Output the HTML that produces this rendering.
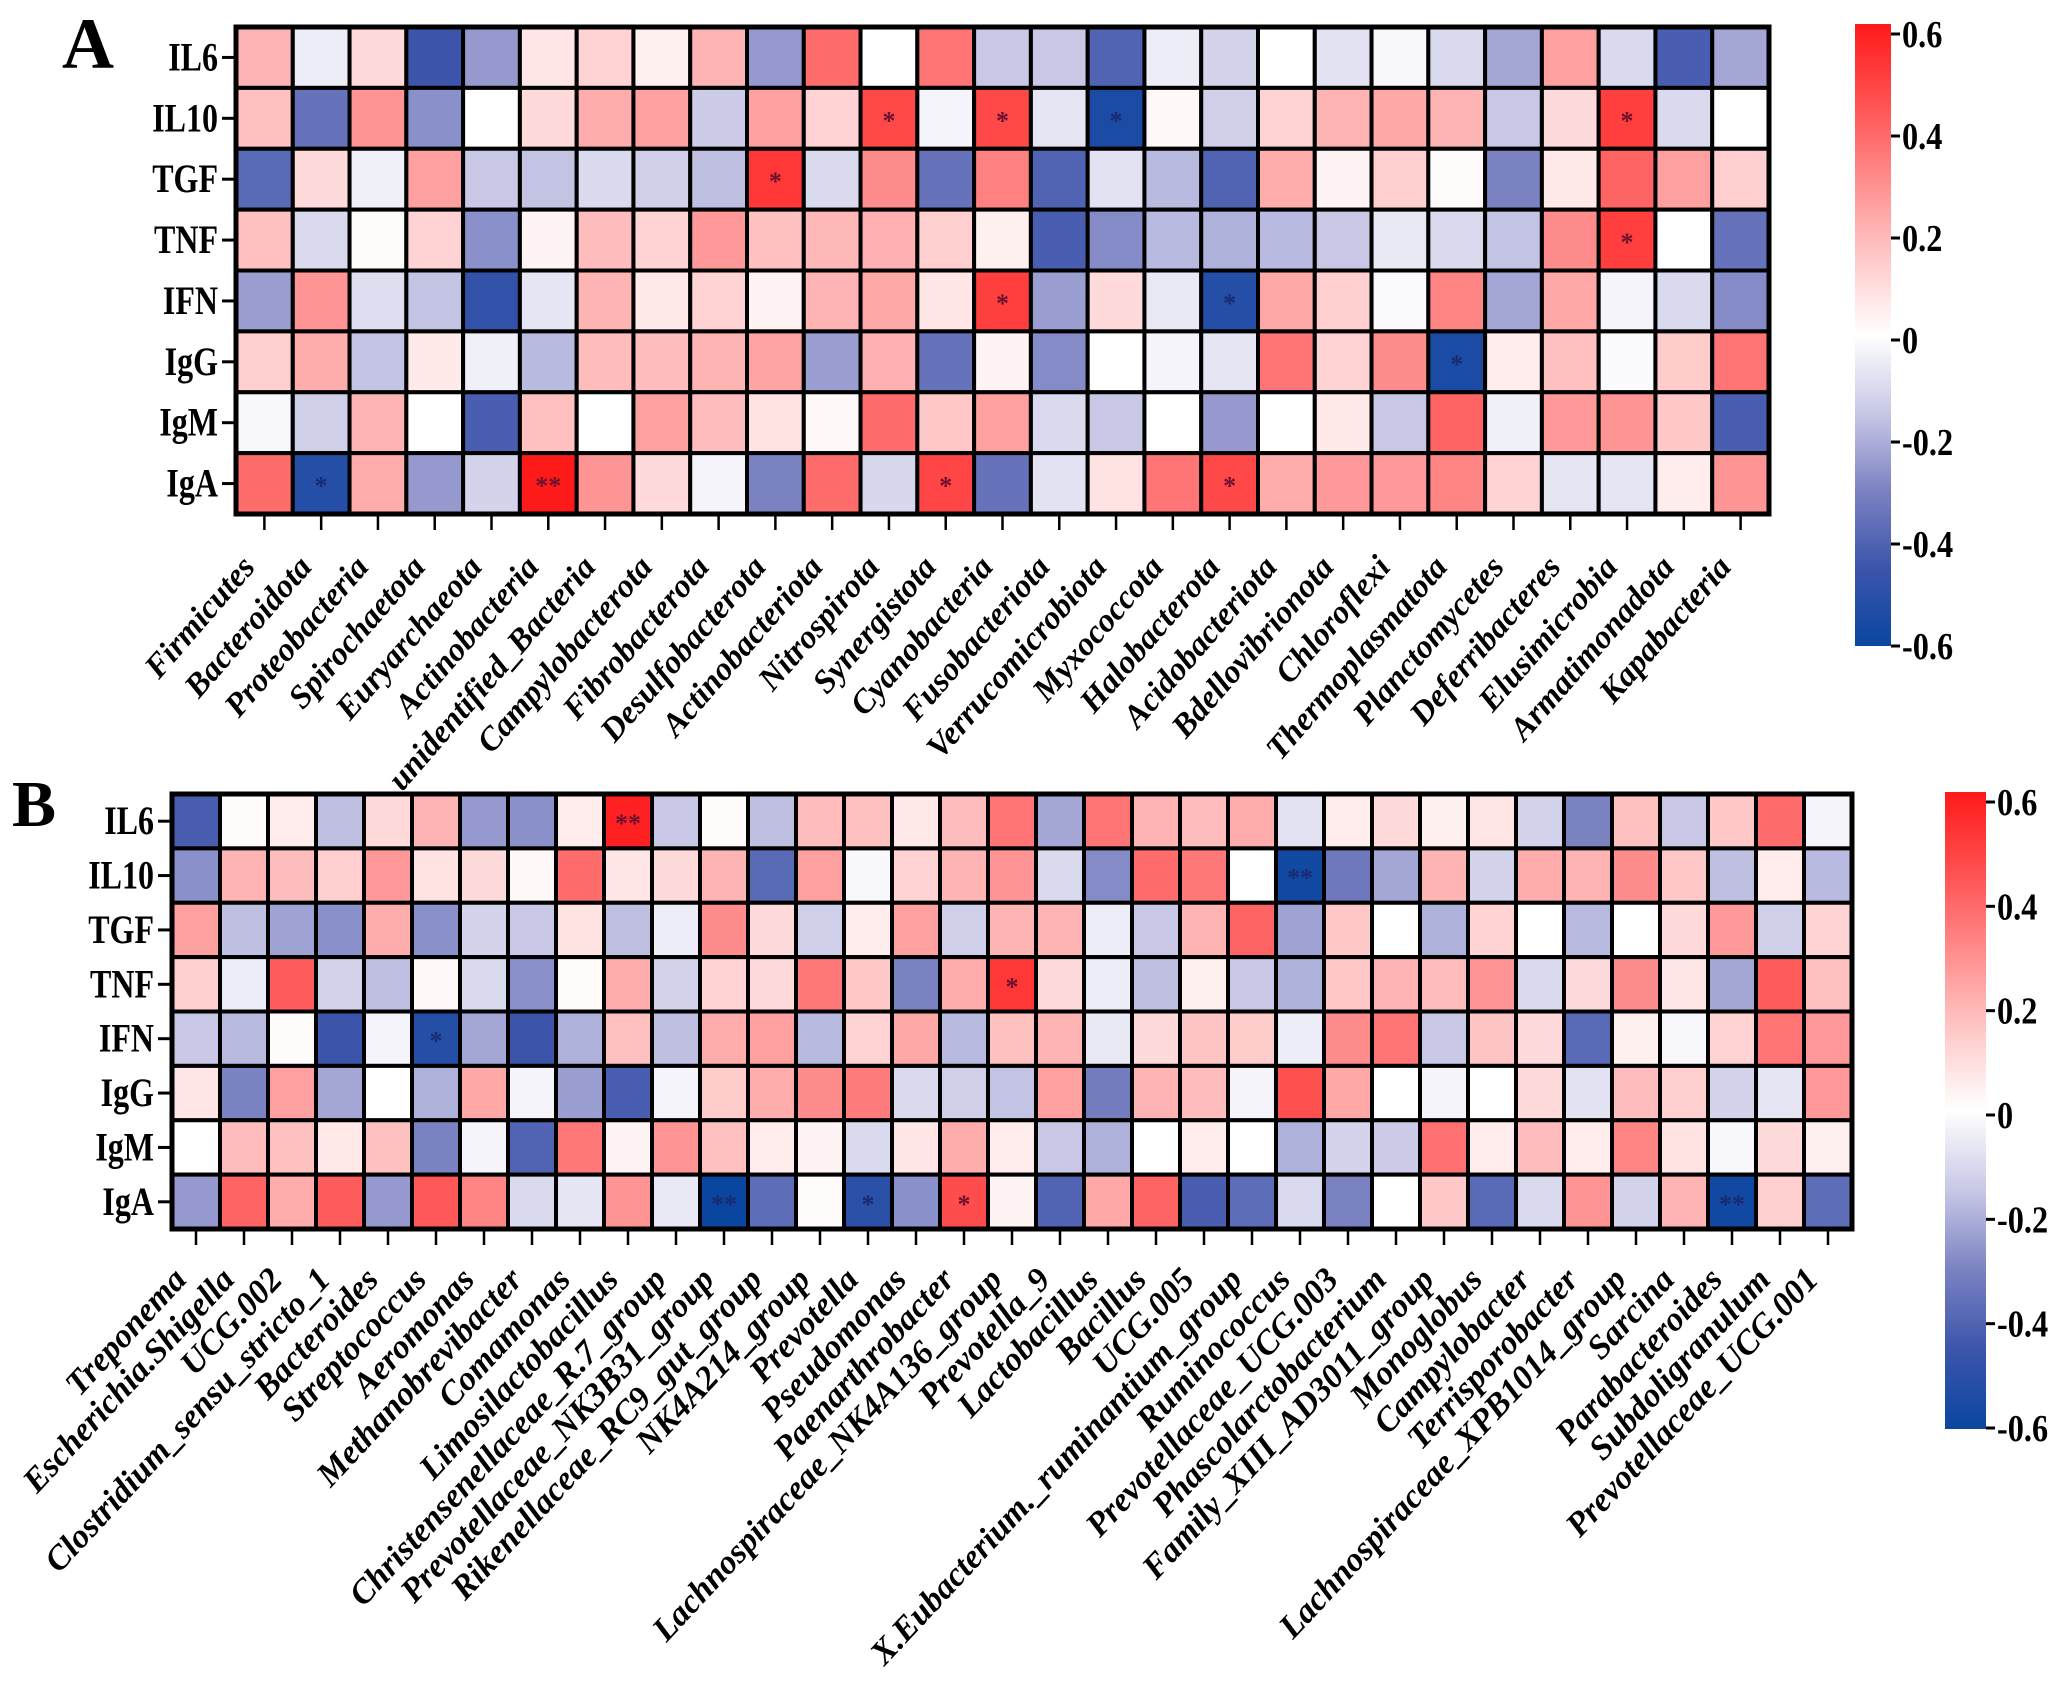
<!DOCTYPE html>
<html><head><meta charset="utf-8"><style>
html,body{margin:0;padding:0;background:#fff;}
svg{display:block;}
text{font-family:"Liberation Serif",serif;font-weight:bold;}
</style></head>
<body>
<svg id="chart" width="2070" height="1691" viewBox="0 0 2070 1691" xmlns="http://www.w3.org/2000/svg">
<defs>
<linearGradient id="cbgrad" x1="0" y1="0" x2="0" y2="1">
<stop offset="0" stop-color="#ff1a1a"/>
<stop offset="0.125" stop-color="#ff5050"/>
<stop offset="0.25" stop-color="#ff8c8c"/>
<stop offset="0.375" stop-color="#ffc8c8"/>
<stop offset="0.5" stop-color="#ffffff"/>
<stop offset="0.625" stop-color="#c8c8e6"/>
<stop offset="0.75" stop-color="#7b82c2"/>
<stop offset="0.875" stop-color="#3c55ab"/>
<stop offset="1" stop-color="#0a46a0"/>
</linearGradient>
</defs>
<g id="panelA"></g>
<g id="panelB"></g>
</svg>
<script>
const rowsLabels = ["IL6","IL10","TGF","TNF","IFN","IgG","IgM","IgA"];
const colsA = ["Firmicutes","Bacteroidota","Proteobacteria","Spirochaetota","Euryarchaeota","Actinobacteria","unidentified_Bacteria","Campylobacterota","Fibrobacterota","Desulfobacterota","Actinobacteriota","Nitrospirota","Synergistota","Cyanobacteria","Fusobacteriota","Verrucomicrobiota","Myxococcota","Halobacterota","Acidobacteriota","Bdellovibrionota","Chloroflexi","Thermoplasmatota","Planctomycetes","Deferribacteres","Elusimicrobia","Armatimonadota","Kapabacteria"];
const valsA_IL6 = [0.2,-0.05,0.1,-0.45,-0.25,0.07,0.12,0.04,0.2,-0.25,0.38,0,0.36,-0.15,-0.15,-0.4,-0.05,-0.12,0,-0.08,-0.02,-0.1,-0.22,0.25,-0.1,-0.42,-0.22];
const valsA_IL10 = [0.17,-0.35,0.28,-0.27,0,0.1,0.22,0.25,-0.14,0.25,0.12,0.47,-0.03,0.47,-0.07,-0.55,0.02,-0.13,0.12,0.2,0.23,0.2,-0.15,0.1,0.5,-0.1,0];
const valsA_TGF = [-0.38,0.1,-0.04,0.25,-0.15,-0.16,-0.1,-0.13,-0.17,0.52,-0.1,0.3,-0.35,0.33,-0.4,-0.08,-0.18,-0.4,0.22,0.03,0.13,0.01,-0.3,0.06,0.4,0.25,0.13];
const valsA_TNF = [0.17,-0.1,0.01,0.12,-0.27,0.03,0.18,0.12,0.27,0.17,0.19,0.21,0.13,0.04,-0.42,-0.28,-0.18,-0.2,-0.18,-0.15,-0.06,-0.1,-0.16,0.3,0.5,0,-0.35];
const valsA_IFN = [-0.24,0.28,-0.09,-0.16,-0.48,-0.07,0.2,0.06,0.12,0.03,0.2,0.23,0.07,0.5,-0.24,0.1,-0.06,-0.52,0.23,0.13,-0.01,0.32,-0.22,0.23,-0.03,-0.1,-0.28];
const valsA_IgG = [0.13,0.22,-0.16,0.06,-0.04,-0.18,0.18,0.18,0.2,0.24,-0.24,0.21,-0.35,0.03,-0.28,0,-0.03,-0.07,0.36,0.12,0.3,-0.55,0.05,0.17,-0.01,0.14,0.36];
const valsA_IgM = [-0.02,-0.13,0.2,0,-0.42,0.17,0,0.25,0.18,0.08,0.02,0.38,0.15,0.25,-0.1,-0.15,0,-0.25,0,0.06,-0.15,0.4,-0.04,0.27,0.28,0.15,-0.42];
const valsA_IgA = [0.38,-0.52,0.22,-0.25,-0.12,0.6,0.28,0.1,-0.03,-0.3,0.38,-0.11,0.48,-0.35,-0.08,0.08,0.36,0.47,0.22,0.27,0.27,0.32,0.12,-0.07,-0.07,0.05,0.28];
const starsA = [[1,11,"*"],[1,13,"*"],[1,15,"*"],[1,24,"*"],[2,9,"*"],[3,24,"*"],[4,13,"*"],[4,17,"*"],[5,21,"*"],[7,1,"*"],[7,5,"**"],[7,12,"*"],[7,17,"*"]];

const colsB = ["Treponema","Escherichia.Shigella","UCG.002","Clostridium_sensu_stricto_1","Bacteroides","Streptococcus","Aeromonas","Methanobrevibacter","Comamonas","Limosilactobacillus","Christensenellaceae_R.7_group","Prevotellaceae_NK3B31_group","Rikenellaceae_RC9_gut_group","NK4A214_group","Prevotella","Pseudomonas","Paenarthrobacter","Lachnospiraceae_NK4A136_group","Prevotella_9","Lactobacillus","Bacillus","UCG.005","X.Eubacterium._ruminantium_group","Ruminococcus","Prevotellaceae_UCG.003","Phascolarctobacterium","Family_XIII_AD3011_group","Monoglobus","Campylobacter","Terrisporobacter","Lachnospiraceae_XPB1014_group","Sarcina","Parabacteroides","Subdoligranulum","Prevotellaceae_UCG.001"];
const valsB_IL6 = [-0.42,0.01,0.05,-0.17,0.1,0.2,-0.25,-0.27,0.05,0.58,-0.15,0.01,-0.17,0.18,0.17,0.06,0.18,0.36,-0.22,0.36,0.2,0.18,0.22,-0.08,0.05,0.1,0.04,0.07,-0.12,-0.3,0.17,-0.15,0.15,0.38,-0.03];
const valsB_IL10 = [-0.27,0.2,0.18,0.13,0.27,0.08,0.1,0.02,0.38,0.07,0.1,0.2,-0.38,0.25,-0.02,0.12,0.2,0.28,-0.1,-0.28,0.38,0.35,0,-0.58,-0.33,-0.22,0.2,-0.12,0.22,0.2,0.3,0.15,-0.17,0.05,-0.18];
const valsB_TGF = [0.25,-0.17,-0.23,-0.27,0.22,-0.27,-0.12,-0.15,0.08,-0.17,-0.05,0.3,0.1,-0.13,0.05,0.25,-0.13,0.2,0.2,-0.05,-0.15,0.2,0.4,-0.23,0.15,0,-0.2,0.12,0,-0.18,0,0.1,0.27,-0.13,0.12];
const valsB_TNF = [0.13,-0.05,0.42,-0.12,-0.17,0.02,-0.1,-0.27,0.01,0.22,-0.12,0.12,0.1,0.35,0.15,-0.3,0.22,0.52,0.1,-0.05,-0.17,0.04,-0.15,-0.2,0.15,0.2,0.18,0.28,-0.1,0.1,0.3,0.07,-0.22,0.42,0.17];
const valsB_IFN = [-0.15,-0.18,0.01,-0.45,-0.03,-0.52,-0.22,-0.45,-0.2,0.17,-0.17,0.22,0.25,-0.18,0.12,0.23,-0.18,0.17,0.2,-0.06,0.1,0.16,0.14,-0.05,0.3,0.36,-0.15,0.16,0.1,-0.38,0.04,-0.02,0.12,0.36,0.27];
const valsB_IgG = [0.07,-0.3,0.25,-0.22,0,-0.2,0.23,-0.03,-0.24,-0.42,-0.03,0.14,0.22,0.3,0.34,-0.1,-0.13,-0.16,0.25,-0.32,0.2,0.18,-0.03,0.45,0.23,0,-0.03,0,0.1,-0.08,0.18,0.13,-0.12,-0.07,0.27];
const valsB_IgM = [0,0.18,0.17,0.06,0.17,-0.3,-0.03,-0.4,0.35,0.03,0.28,0.17,0.05,0.03,-0.1,0.07,0.22,0.05,-0.15,-0.2,0,0.05,0,-0.2,-0.12,-0.14,0.37,0.05,0.18,0.05,0.32,0.08,-0.02,0.1,0.04];
const valsB_IgA = [-0.25,0.4,0.22,0.42,-0.25,0.43,0.32,-0.1,-0.07,0.28,-0.06,-0.6,-0.37,0.01,-0.5,-0.27,0.46,0.03,-0.4,0.23,0.4,-0.42,-0.37,-0.1,-0.3,0,0.15,-0.38,-0.1,0.28,-0.12,0.2,-0.58,0.13,-0.37];
const starsB = [[0,9,"**"],[1,23,"**"],[3,17,"*"],[4,5,"*"],[7,11,"**"],[7,14,"*"],[7,16,"*"],[7,32,"**"]];
const cbTicks = [0.6,0.4,0.2,0,-0.2,-0.4,-0.6];
const cbTickLabels = ["0.6","0.4","0.2","0","-0.2","-0.4","-0.6"];

const NS = "http://www.w3.org/2000/svg";
function mk(tag, attrs, parent){const e=document.createElementNS(NS,tag);for(const k in attrs)e.setAttribute(k,attrs[k]);parent.appendChild(e);return e;}
const stops=[[-0.6,[10,70,160]],[-0.45,[60,85,171]],[-0.3,[123,130,194]],[-0.15,[200,200,230]],[0,[255,255,255]],[0.15,[255,200,200]],[0.3,[255,140,140]],[0.45,[255,80,80]],[0.6,[255,26,26]]];
function color(v){v=Math.max(-0.6,Math.min(0.6,v));for(let i=0;i<stops.length-1;i++){const a=stops[i],b=stops[i+1];if(v>=a[0]&&v<=b[0]){const t=(v-a[0])/(b[0]-a[0]);const c=a[1].map((x,j)=>Math.round(x+(b[1][j]-x)*t));return "rgb("+c.join(",")+")";}}return "#fff";}

function drawPanel(g, cfg){
  const nr=cfg.rows.length, nc=cfg.cols.length;
  const cw=(cfg.x1-cfg.x0)/nc, rh=(cfg.y1-cfg.y0)/nr;
  const xs=i=>cfg.x0+i*cw, ys=j=>cfg.y0+j*rh;
  cfg.vals.forEach((row,r)=>{
    row.forEach((v,c)=>{
      const rect=mk("rect",{x:xs(c),y:ys(r),width:cw,height:rh,fill:color(v),stroke:"#000","stroke-width":4},g);
      
      
    });
  });
  const border=mk("rect",{x:cfg.x0,y:cfg.y0,width:cfg.x1-cfg.x0,height:cfg.y1-cfg.y0,fill:"none",stroke:"#000","stroke-width":5},g);
  
  
  cfg.stars.forEach(s=>{
    const v=cfg.vals[s[0]][s[1]];
    const t=mk("text",{x:xs(s[1])+cw/2,y:ys(s[0])+rh/2+11,"text-anchor":"middle","font-size":26,fill:v<0?"#1a2a70":"#6a1030","font-weight":"normal"},g);
    t.textContent=s[2];
    
    
  });
  cfg.rows.forEach((lab,r)=>{
    const cy=ys(r)+rh/2;
    const tk=mk("line",{x1:cfg.x0-14,x2:cfg.x0,y1:cy,y2:cy,stroke:"#000","stroke-width":3},g);
    
    
    const t=mk("text",{transform:"translate("+(cfg.x0-18)+","+(cy+13)+") scale(0.8,1)","text-anchor":"end","font-size":40},g);
    t.textContent=lab;
    
    
  });
  cfg.cols.forEach((lab,c)=>{
    const cx=xs(c)+cw/2;
    const tk=mk("line",{x1:cx,x2:cx,y1:cfg.y1,y2:cfg.y1+16,stroke:"#000","stroke-width":2.5},g);
    
    
    const t=mk("text",{transform:"translate("+(cx-8)+","+(cfg.y1+cfg.lblOff)+") rotate("+cfg.lblAngle+")","text-anchor":"end","font-size":cfg.lblSize,"font-style":"italic"},g);
    t.textContent=lab;
    
    
  });
  const cb=mk("rect",{x:cfg.cbx,y:cfg.cby0,width:cfg.cbw,height:cfg.cby1-cfg.cby0,fill:"url(#cbgrad)"},g);
  
  
  const cbY=v=>cfg.cbt0+(0.6-v)/1.2*(cfg.cbt1-cfg.cbt0);
  cbTicks.forEach((v,i)=>{
    const y=cbY(v);
    const tk=mk("line",{x1:cfg.cbx+cfg.cbw,x2:cfg.cbx+cfg.cbw+9,y1:y,y2:y,stroke:"#000","stroke-width":3},g);
    
    
    const t=mk("text",{transform:"translate("+(cfg.cbx+cfg.cbw+11)+","+(y+13)+") scale(0.85,1)","font-size":38},g);
    t.textContent=cbTickLabels[i];
    
    
  });
  const L=mk("text",{x:cfg.lx,y:cfg.ly,"font-size":cfg.ls},g);
  L.textContent=cfg.letter;
  
  
}
drawPanel(document.getElementById("panelA"),{rows:rowsLabels,cols:colsA,
  vals:[valsA_IL6,valsA_IL10,valsA_TGF,valsA_TNF,valsA_IFN,valsA_IgG,valsA_IgM,valsA_IgA],stars:starsA,
  x0:236,x1:1769,y0:27,y1:514,cbx:1855,cbw:36,cby0:24,cby1:646,cbt0:34,cbt1:646,lx:62,ly:68,ls:72,letter:"A",lblOff:54,lblAngle:-49,lblSize:33});
drawPanel(document.getElementById("panelB"),{rows:rowsLabels,cols:colsB,
  vals:[valsB_IL6,valsB_IL10,valsB_TGF,valsB_TNF,valsB_IFN,valsB_IgG,valsB_IgM,valsB_IgA],stars:starsB,
  x0:172,x1:1852,y0:794,y1:1229,cbx:1945,cbw:41,cby0:792,cby1:1429,cbt0:802,cbt1:1428,lx:12,ly:826,ls:66,letter:"B",lblOff:52,lblAngle:-47,lblSize:34});
</script>
</body></html>
